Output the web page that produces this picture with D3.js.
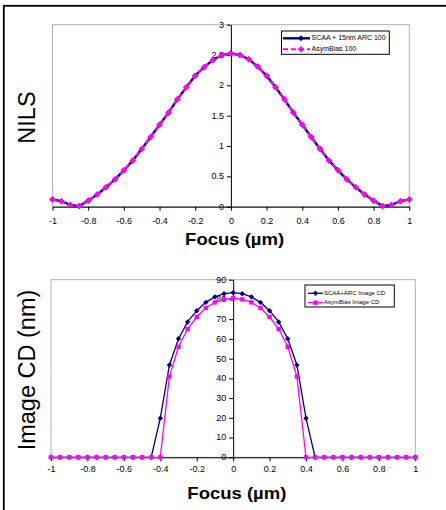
<!DOCTYPE html>
<html>
<head>
<meta charset="utf-8">
<script src="https://cdn.jsdelivr.net/npm/d3@7"></script>
<style>
  html, body { margin: 0; padding: 0; background: #fff; }
  svg { display: block; font-family: "Liberation Sans", Arial, sans-serif; }
</style>
</head>
<body>
<svg id="chart" width="446" height="510"></svg>
<script>
// Focus positions (µm) shared by both panels
const focus = [-1, -0.95, -0.9, -0.85, -0.8, -0.75, -0.7, -0.65, -0.6, -0.55, -0.5,
  -0.45, -0.4, -0.35, -0.3, -0.25, -0.2, -0.15, -0.1, -0.05, 0,
  0.05, 0.1, 0.15, 0.2, 0.25, 0.3, 0.35, 0.4, 0.45, 0.5,
  0.55, 0.6, 0.65, 0.7, 0.75, 0.8, 0.85, 0.9, 0.95, 1];

// NILS through focus
const nilsScaa = [0.12, 0.09, 0.03, 0.01, 0.10, 0.20, 0.32, 0.45, 0.60, 0.76, 0.95,
  1.15, 1.35, 1.55, 1.77, 1.97, 2.16, 2.30, 2.42, 2.50, 2.53,
  2.50, 2.43, 2.31, 2.16, 1.97, 1.77, 1.55, 1.35, 1.15, 0.95,
  0.76, 0.60, 0.45, 0.32, 0.20, 0.10, 0.01, 0.03, 0.09, 0.12];
const nilsAsym = [0.12, 0.09, 0.03, 0.01, 0.10, 0.20, 0.32, 0.45, 0.60, 0.76, 0.95,
  1.15, 1.35, 1.55, 1.77, 1.97, 2.16, 2.30, 2.42, 2.50, 2.52,
  2.50, 2.43, 2.31, 2.16, 1.97, 1.77, 1.55, 1.35, 1.15, 0.95,
  0.76, 0.60, 0.45, 0.32, 0.20, 0.10, 0.01, 0.03, 0.09, 0.12];

// Image CD (nm) through focus
const cdScaa = [0, 0, 0, 0, 0, 0, 0, 0, 0, 0, 0,
  0, 19.8, 46.8, 60.1, 68.6, 74.3, 78.5, 81.3, 82.9, 83.4,
  82.9, 81.3, 78.5, 74.3, 68.6, 60.1, 46.8, 19.8, 0, 0,
  0, 0, 0, 0, 0, 0, 0, 0, 0, 0];
const cdAsym = [0, 0, 0, 0, 0, 0, 0, 0, 0, 0, 0,
  0, 0, 40.9, 56.0, 65.0, 71.1, 75.7, 78.5, 80.0, 80.6,
  80.0, 78.5, 75.7, 71.1, 65.0, 56.0, 40.9, 0, 0, 0,
  0, 0, 0, 0, 0, 0, 0, 0, 0, 0];

// Tick values
const focusTicks = [-1, -0.8, -0.6, -0.4, -0.2, 0, 0.2, 0.4, 0.6, 0.8, 1];
const nilsTicks = [0, 0.5, 1, 1.5, 2, 2.5, 3];
const cdTicks = [0, 10, 20, 30, 40, 50, 60, 70, 80, 90];

// Series names
const nilsNames = ["SCAA + 15nm ARC 100", "AsymBias 100"];
const cdNames = ["SCAA+ARC Image CD", "AsymBias Image CD"];

const NAVY = "#000080", MAGENTA = "#ff00ff";
const svg = d3.select("#chart");

// outer frame
svg.append("rect").attr("x", 3.8).attr("y", 5.8).attr("width", 600).attr("height", 600)
  .attr("fill", "none").attr("stroke", "#000").attr("stroke-width", 1.8);

const fmt = d => String(Math.round(d * 10) / 10);

function diamond(sel, half) {
  sel.attr("d", `M0,${-half}L${half},0L0,${half}L${-half},0Z`);
}

function panel(cfg) {
  const x = d3.scaleLinear().domain([-1, 1]).range([cfg.left, cfg.right]);
  const y = d3.scaleLinear().domain(cfg.yDomain).range([cfg.bottom, cfg.top]);
  const g = svg.append("g");

  // plot area border
  g.append("rect").attr("x", cfg.left).attr("y", cfg.top)
    .attr("width", cfg.right - cfg.left).attr("height", cfg.bottom - cfg.top)
    .attr("fill", "none").attr("stroke", "#b0b0b0").attr("stroke-width", 1);

  // x axis on the zero line
  const xAxis = d3.axisBottom(x).tickValues(focusTicks).tickFormat(fmt).tickSize(4).tickSizeOuter(0);
  const xa = g.append("g").attr("transform", `translate(0,${y(0)})`).call(xAxis);
  xa.select(".domain").attr("stroke", "#000");
  xa.selectAll(".tick line").attr("stroke", "#000");
  xa.selectAll(".tick text").attr("font-size", 9).attr("font-family", "Liberation Sans, Arial")
    .attr("fill", "#000").attr("dy", null).attr("y", cfg.xLabelDy).attr("dominant-baseline", "middle");

  // y axis at zero focus
  const yAxis = d3.axisLeft(y).tickValues(cfg.yTicks).tickFormat(fmt).tickSize(4).tickSizeOuter(0).tickPadding(cfg.yPad);
  const ya = g.append("g").attr("transform", `translate(${x(0)},0)`).call(yAxis);
  ya.select(".domain").attr("stroke", "#000");
  ya.selectAll(".tick line").attr("stroke", "#000");
  ya.selectAll(".tick text").attr("font-size", 9).attr("font-family", "Liberation Sans, Arial")
    .attr("fill", "#000").attr("dy", null).attr("dominant-baseline", "middle");

  // series
  cfg.series.forEach(s => {
    const pts = focus.map((f, i) => [f, s.values[i]]);
    g.append("path").datum(pts)
      .attr("d", d3.line().x(d => x(d[0])).y(d => y(d[1])))
      .attr("fill", "none").attr("stroke", s.color).attr("stroke-width", s.width)
      .attr("stroke-dasharray", s.dash || null);
    g.append("g").selectAll("path").data(pts).join("path")
      .attr("transform", d => `translate(${x(d[0])},${y(d[1])})`)
      .call(sel => s.marker === "square"
        ? sel.attr("d", d3.symbol().type(d3.symbolSquare).size(s.size * s.size))
        : diamond(sel, s.size))
      .attr("fill", s.color);
  });

  // legend
  const L = cfg.legend;
  g.append("rect").attr("x", L.x).attr("y", L.y).attr("width", L.w).attr("height", L.h)
    .attr("fill", "#fff").attr("stroke", "#000").attr("stroke-width", 1);
  cfg.series.forEach((s, i) => {
    const ry = L.rows[i];
    g.append("line").attr("x1", L.lineX1).attr("x2", L.lineX2).attr("y1", ry).attr("y2", ry)
      .attr("stroke", s.color).attr("stroke-width", s.width).attr("stroke-dasharray", s.dash || null);
    const m = g.append("path").attr("transform", `translate(${L.markX},${ry})`).attr("fill", s.color);
    if (s.marker === "square") m.attr("d", d3.symbol().type(d3.symbolSquare).size(s.size * s.size));
    else diamond(m, s.size);
    g.append("text").attr("x", L.textX).attr("y", ry).attr("dominant-baseline", "middle")
      .attr("font-size", L.font).attr("fill", "#000").text(s.name);
  });

  // axis titles
  g.append("text").attr("transform", `translate(${cfg.yTitleX},${cfg.yTitleY}) rotate(-90)`)
    .attr("text-anchor", "middle").attr("font-size", 23.5).attr("fill", "#000")
    .text(cfg.yTitle);
  g.append("text").attr("x", x(0) + 3.7).attr("y", cfg.xTitleY).attr("text-anchor", "middle")
    .attr("font-size", 17).attr("font-weight", "bold").attr("fill", "#000")
    .attr("textLength", 99).attr("lengthAdjust", "spacingAndGlyphs")
    .text("Focus (µm)");
}

panel({
  left: 52.5, right: 409.3, top: 24.7, bottom: 206.7,
  yDomain: [0, 3], yTicks: nilsTicks, yPad: 3, xLabelDy: 15,
  yTitle: "NILS", yTitleX: 34.5, yTitleY: 117.5, xTitleY: 245,
  series: [
    { name: nilsNames[0], values: nilsScaa, color: NAVY, width: 2.4, marker: "diamond", size: 3 },
    { name: nilsNames[1], values: nilsAsym, color: MAGENTA, width: 2, dash: "5,3", marker: "diamond", size: 3.3 }
  ],
  legend: { x: 281.5, y: 31, w: 107.8, h: 23.3, rows: [38.3, 49.3],
            lineX1: 283, lineX2: 310, markX: 301, textX: 311.5, font: 7 }
});

panel({
  left: 51, right: 415.3, top: 279.7, bottom: 457.3,
  yDomain: [0, 90], yTicks: cdTicks, yPad: 3, xLabelDy: 12.8,
  yTitle: "Image CD (nm)", yTitleX: 34.5, yTitleY: 370, xTitleY: 499.3,
  series: [
    { name: cdNames[0], values: cdScaa, color: NAVY, width: 1.3, marker: "diamond", size: 2.7 },
    { name: cdNames[1], values: cdAsym, color: MAGENTA, width: 1.3, marker: "square", size: 4.4 }
  ],
  legend: { x: 305, y: 285, w: 89.3, h: 22, rows: [293.3, 302.7],
            lineX1: 308, lineX2: 323, markX: 315.5, textX: 324, font: 6 }
});
</script>
</body>
</html>
